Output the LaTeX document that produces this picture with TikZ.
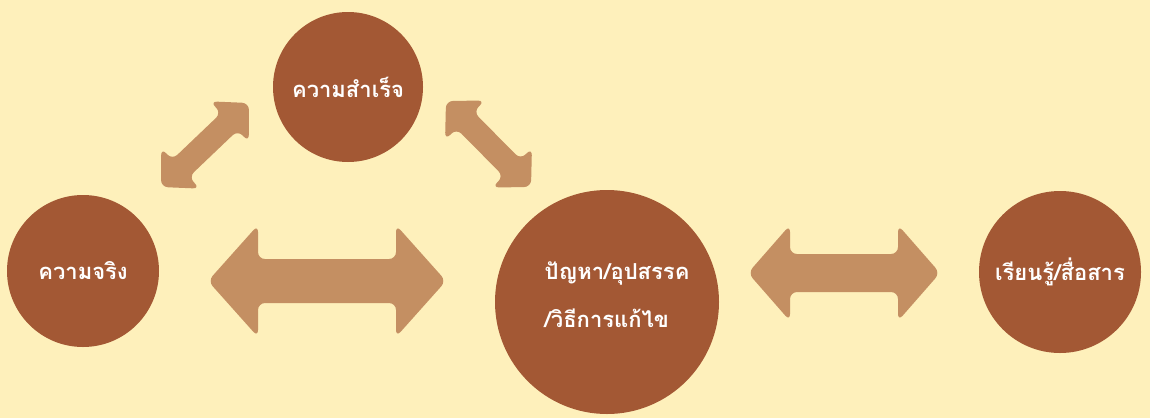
\documentclass[tikz,border=0pt]{standalone}
\usepackage{fontspec}
\usetikzlibrary{calc}
\newfontfamily\thaifont[Script=Thai]{Loma}
\definecolor{bakgrunn}{RGB}{254,240,187}
\definecolor{brun}{RGB}{163,88,52}
\definecolor{lysbrun}{RGB}{196,143,98}
\tikzset{
    %Define style for circles
    sirkel/.style={
           circle,
           fill=brun,
           text=white,
           inner sep=0pt,
           font=\thaifont\bfseries\fontsize{22}{48}\selectfont,
           align=center},
    %Define style for the fat arrows
    dobbelpil/.style={
           fill=lysbrun,
           rounded corners=7pt}
}
% fat double arrow: from, to, shaft half width, head half width, head length
\newcommand{\fatpil}[5]{%
  \fill[dobbelpil] (#1)
    -- ($(#1)!#5!(#2)!#4!90:(#2)$)
    -- ($(#1)!#5!(#2)!#3!90:(#2)$)
    -- ($(#2)!#5!(#1)!#3!-90:(#1)$)
    -- ($(#2)!#5!(#1)!#4!-90:(#1)$)
    -- (#2)
    -- ($(#2)!#5!(#1)!#4!90:(#1)$)
    -- ($(#2)!#5!(#1)!#3!90:(#1)$)
    -- ($(#1)!#5!(#2)!#3!-90:(#2)$)
    -- ($(#1)!#5!(#2)!#4!-90:(#2)$)
    -- cycle;}

\begin{document}
\begin{tikzpicture}[x=1pt,y=-1pt]
\useasboundingbox (0,0) rectangle (1150,418);
\fill[bakgrunn] (0,0) rectangle (1150,418);

 %nodes
\node[sirkel, minimum size=152pt] (sannhet) at (83,271) {ความจริง};
\node[sirkel, minimum size=150pt] (suksess) at (348,87) {ความสำเร็จ};
\node[sirkel, minimum size=224pt, align=left] (problem) at (607,302) {\hspace*{20pt}ปัญหา/อุปสรรค\\\hspace*{20pt}/วิธีการแก้ไข\\[-34pt]};
\node[sirkel, minimum size=162pt] (laering) at (1060,272) {เรียนรู้/สื่อสาร};

 %arrow ends
\coordinate (sp1) at (161,187);
\coordinate (sp2) at (249,103);
\coordinate (pp1) at (446,101);
\coordinate (pp2) at (531,187);
\coordinate (hp1) at (208,281);
\coordinate (hp2) at (446,281);
\coordinate (lp1) at (748,273);
\coordinate (lp2) at (940,273);

 %arrows
\fatpil{sp1}{sp2}{12pt}{28pt}{27pt}
\fatpil{pp1}{pp2}{12pt}{28pt}{27pt}
\fatpil{hp1}{hp2}{22pt}{56pt}{50pt}
\fatpil{lp1}{lp2}{19pt}{48pt}{42pt}

\end{tikzpicture}
\end{document}
